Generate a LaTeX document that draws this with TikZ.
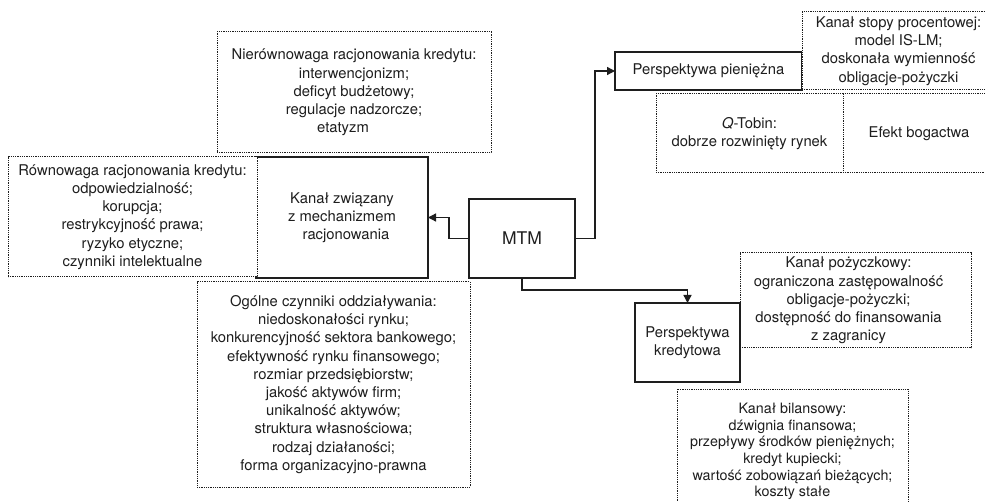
\documentclass[tikz,border=0pt]{standalone}
\usepackage{fontspec}
\setmainfont{TeX Gyre Heros}
\usetikzlibrary{arrows.meta}
\definecolor{ink}{HTML}{1E1E1E}
\begin{document}
\begin{tikzpicture}[x=1pt,y=-1pt,
  every node/.style={text=ink, inner sep=0pt, outer sep=0pt, align=center,
    font=\fontsize{14.8}{18.2}\selectfont},
  solidbox/.style={draw=ink, line width=1.3pt, fill=white},
  dotbox/.style={draw=ink, line width=1pt, dash pattern=on 1pt off 0.8pt, fill=white},
  conn/.style={draw=ink, line width=1.3pt, -{Triangle[length=8pt,width=8pt]}}]
\clip (0,0) rectangle (985,502);
\fill[white] (0,0) rectangle (985,502);

% solid boxes that lie under dotted neighbours
\node[solidbox, minimum width=172, minimum height=121] (kanal) at (342,217.5)
  {\raisebox{-7pt}{\parbox{150pt}{\centering Kanał związany\\z mechanizmem\\racjonowania\hspace*{-8pt}}}};
\node[solidbox, minimum width=187, minimum height=38] (pien) at (708.5,71)
  {Perspektywa pieniężna};

% dotted boxes, top half
\node[dotbox, minimum width=274, minimum height=121] (nier) at (354,92.5)
  {\parbox{270pt}{\centering Nierównowaga racjonowania kredytu:\\interwencjonizm;\hspace*{26pt}\\deficyt budżetowy;\hspace*{26pt}\\regulacje nadzorcze;\hspace*{26pt}\\etatyzm\hspace*{22pt}}};
\node[dotbox, minimum width=249, minimum height=120] (rown) at (132.5,217)
  {Równowaga racjonowania kredytu:\\odpowiedzialność;\\korupcja;\\restrykcyjność prawa;\\ryzyko etyczne;\\czynniki intelektualne};
\node[dotbox, minimum width=193, minimum height=78] (stopy) at (898.5,51)
  {Kanał stopy procentowej:\\model IS-LM;\\doskonała wymienność\\obligacje-pożyczki};
\node[dotbox, minimum width=187, minimum height=79] (tobin) at (749.5,133.5)
  {\textit{Q}-Tobin:\\dobrze rozwinięty rynek};
\node[dotbox, minimum width=152, minimum height=79] (efekt) at (919,133.5)
  {Efekt bogactwa};

% centre
\node[solidbox, minimum width=106, minimum height=79,
  font=\fontsize{17.5}{20}\selectfont] (mtm) at (522,238.5) {MTM};

% dotted boxes, bottom half
\node[dotbox, minimum width=273, minimum height=205] (ogolne) at (333.5,384.5)
  {\raisebox{-6pt}{\parbox{270pt}{\centering Ogólne czynniki oddziaływania:\\niedoskonałości rynku;\\konkurencyjność sektora bankowego;\\efektywność rynku finansowego;\\rozmiar przedsiębiorstw;\\jakość aktywów firm;\\unikalność aktywów;\\struktura własnościowa;\\rodzaj działaności;\\forma organizacyjno-prawna}}};
\node[dotbox, minimum width=231, minimum height=95] (pozycz) at (855.5,300.5)
  {\hspace*{-14pt}\parbox{220pt}{\centering Kanał pożyczkowy:\\ograniczona zastępowalność\\obligacje-pożyczki;\\dostępność do finansowania\\z zagranicy}};
\node[dotbox, minimum width=231, minimum height=125,
  font=\fontsize{14.3}{16.6}\selectfont] (bilans) at (792.5,451.5)
  {\raisebox{7pt}{\parbox{228pt}{\centering Kanał bilansowy:\\dźwignia finansowa;\\przepływy środków pieniężnych;\\kredyt kupiecki;\\wartość zobowiązań bieżących;\\koszty stałe}}};

% solid box drawn over its dotted neighbour
\node[solidbox, minimum width=105, minimum height=79] (kred) at (687.5,342.5)
  {Perspektywa\\kredytowa};

% connectors from MTM
\draw[conn] (mtm.west) -- ++(-20,0) |- (kanal.east);
\draw[conn] (mtm.east) -- ++(20,0) |- (pien.west);
\draw[conn] (mtm.south) -- ++(0,12) -| (kred.north);
\end{tikzpicture}
\end{document}
